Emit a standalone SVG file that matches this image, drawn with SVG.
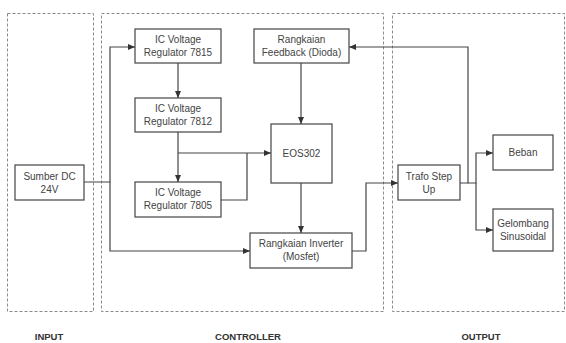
<svg xmlns="http://www.w3.org/2000/svg" width="566" height="343" viewBox="0 0 566 343">
<defs>
<style>
.zone{fill:none;stroke:#8a8a8a;stroke-width:1;stroke-dasharray:3,2}
.box{fill:#fff;stroke:#444;stroke-width:1.2}
.t{font-family:"Liberation Sans",Arial,sans-serif;font-size:10px;fill:#444;text-anchor:middle}
.lbl{font-family:"Liberation Sans",Arial,sans-serif;font-size:9.5px;font-weight:bold;fill:#333;text-anchor:middle}
.c{fill:none;stroke:#444;stroke-width:1.2}
</style>
<marker id="ah" markerWidth="8" markerHeight="8" refX="7" refY="4" orient="auto" markerUnits="userSpaceOnUse">
<path d="M0,1 L7,4 L0,7 Z" fill="#333"/>
</marker>
</defs>
<rect width="566" height="343" fill="#fff"/>
<g id="zones">
<rect class="zone" x="7.5" y="13.5" width="86" height="298"/>
<rect class="zone" x="101.5" y="13.5" width="282" height="298"/>
<rect class="zone" x="392.5" y="13.5" width="172" height="298"/>
<text class="lbl" x="49" y="339.5">INPUT</text>
<text class="lbl" x="248" y="339.5">CONTROLLER</text>
<text class="lbl" x="481" y="339.5">OUTPUT</text>
</g>
<g id="connectors">
<path class="c" d="M84,182 H110 V47 H135" marker-end="url(#ah)"/>
<path class="c" d="M110,182 V251 H250" marker-end="url(#ah)"/>
<path class="c" d="M178,63 V98" marker-end="url(#ah)"/>
<path class="c" d="M178,132 V182" marker-end="url(#ah)"/>
<path class="c" d="M178,153 H271" marker-end="url(#ah)"/>
<path class="c" d="M221,200 H247 V153"/>
<path class="c" d="M301,63 V124" marker-end="url(#ah)"/>
<path class="c" d="M301,183 V233" marker-end="url(#ah)"/>
<path class="c" d="M352,251 H366 V183 H398" marker-end="url(#ah)"/>
<path class="c" d="M460,183 H468 V47 H349" marker-end="url(#ah)"/>
<path class="c" d="M468,183 H476 V153 H493" marker-end="url(#ah)"/>
<path class="c" d="M476,183 V230 H493" marker-end="url(#ah)"/>
</g>
<g id="sumber">
<rect class="box" x="15" y="165" width="69" height="35"/>
<text class="t" x="49.5" y="180">Sumber DC</text>
<text class="t" x="49.5" y="193">24V</text>
</g>
<g id="ic7815">
<rect class="box" x="135" y="29" width="86" height="34"/>
<text class="t" x="178" y="43">IC Voltage</text>
<text class="t" x="178" y="56">Regulator 7815</text>
</g>
<g id="ic7812">
<rect class="box" x="135" y="98" width="86" height="34"/>
<text class="t" x="178" y="112">IC Voltage</text>
<text class="t" x="178" y="125">Regulator 7812</text>
</g>
<g id="ic7805">
<rect class="box" x="135" y="182" width="86" height="35"/>
<text class="t" x="178" y="196">IC Voltage</text>
<text class="t" x="178" y="209">Regulator 7805</text>
</g>
<g id="feedback">
<rect class="box" x="254" y="29" width="95" height="34"/>
<text class="t" x="301.5" y="43">Rangkaian</text>
<text class="t" x="301.5" y="56">Feedback (Dioda)</text>
</g>
<g id="eos">
<rect class="box" x="271" y="124" width="61" height="59"/>
<text class="t" x="301.5" y="157">EOS302</text>
</g>
<g id="inverter">
<rect class="box" x="250" y="233" width="102" height="35"/>
<text class="t" x="301" y="247">Rangkaian Inverter</text>
<text class="t" x="301" y="260">(Mosfet)</text>
</g>
<g id="trafo">
<rect class="box" x="398" y="165" width="62" height="35"/>
<text class="t" x="429" y="180">Trafo Step</text>
<text class="t" x="429" y="193">Up</text>
</g>
<g id="beban">
<rect class="box" x="493" y="135" width="60" height="35"/>
<text class="t" x="523" y="156">Beban</text>
</g>
<g id="gelombang">
<rect class="box" x="493" y="209" width="60" height="42"/>
<text class="t" x="523" y="227">Gelombang</text>
<text class="t" x="523" y="240">Sinusoidal</text>
</g>
</svg>
